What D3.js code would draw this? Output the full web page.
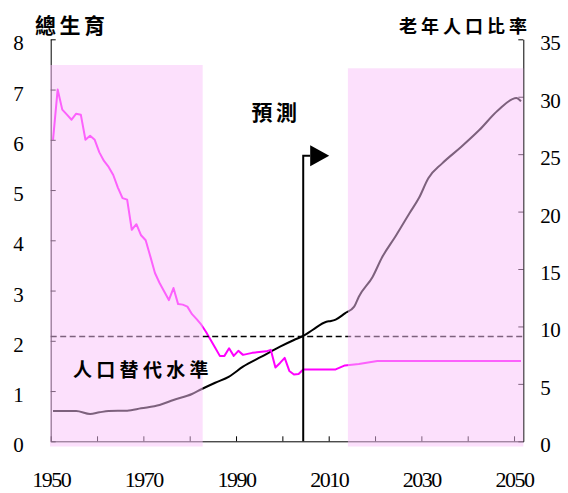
<!DOCTYPE html>
<html>
<head>
<meta charset="utf-8">
<script src="https://cdn.jsdelivr.net/npm/d3@7/dist/d3.min.js"></script>
<style>
	body{margin:0;background:#fff;}
	.num{font-family:"Liberation Serif","Times New Roman",serif;font-size:20px;fill:#000;}
	.cjk{font-family:"Noto Sans CJK TC","Noto Sans CJK SC",sans-serif;font-weight:700;fill:#000;}
</style>
</head>
<body>
<svg id="chart" width="568" height="493"></svg>
<script>
// total fertility rate (left axis)
const fertYears = [1950,1951,1952,1953,1954,1955,1956,1957,1958,1959,
	1960,1961,1962,1963,1964,1965,1966,1967,1968,1969,
	1970,1971,1972,1973,1974,1975,1976,1977,1978,1979,
	1980,1981,1982,1983,1984,1985,1986,1987,1988,1989,
	1990,1991,1992,1993,1994,1995,1996,1997,1998,1999,
	2000,2001,2002,2003,2004,2011,2012,2013,2014,2016,2018,2020,2051];
const fertValues = [6.0,7.0,6.6,6.5,6.4,6.52,6.5,6.0,6.08,6.0,
	5.75,5.58,5.46,5.3,5.05,4.84,4.81,4.21,4.32,4.1,
	4.0,3.68,3.35,3.15,2.98,2.81,3.05,2.73,2.72,2.68,
	2.53,2.43,2.32,2.18,2.02,1.86,1.7,1.7,1.85,1.7,
	1.8,1.72,1.74,1.76,1.77,1.78,1.79,1.82,1.47,1.56,
	1.66,1.4,1.33,1.34,1.43,1.43,1.47,1.51,1.52,1.54,1.57,1.6,1.6];

// share of population aged 65+ (right axis, %)
const oldYears = [1950,1955,1958,1960,1962,1966,1969,1973,1976,1980,1982,1985,1988,1991,1995,1999,2002,2004,2006,
	2009,2010,2011,2013,2015,2016,2019,2021,2024,2027,2029,2031,2034,2038,2042,2046,2050,2051];
const oldValues = [2.64,2.64,2.38,2.52,2.64,2.66,2.87,3.16,3.6,4.12,4.53,5.1,5.63,6.5,7.37,8.24,8.82,9.17,9.69,
	10.41,10.47,10.6,11.14,11.72,12.59,14.33,16.0,17.9,19.9,21.2,22.9,24.2,25.6,27.1,28.8,29.9,29.6];

const leftTicks = [0,1,2,3,4,5,6,7,8];
const rightTicks = [0,5,10,15,20,25,30,35];
const yearTicks = [1950,1960,1970,1980,1990,2000,2010,2020,2030,2040,2050];
const yearLabels = [1950,1970,1990,2010,2030,2050];

const replacementLevel = 2.1;
const forecastYear = 2004;
const bandStarts = [1950, 2014.3];
const bandEnds = [1982.8, 2052];

const svg = d3.select("#chart"),
	plotLeft = 50.7, plotRight = 523.3, plotTop = 39.3, plotBottom = 441.3;

let x = d3.scaleLinear().domain([1950, 2052]).range([plotLeft, plotRight]),
	y = d3.scaleLinear().domain([0, 8]).range([plotBottom, plotTop]),
	yR = d3.scaleLinear().domain([0, 35]).range([plotBottom, plotTop]);

drawLines();
drawReference();
drawAxes();
drawBands();
drawTexts();

//both series, each point sits in the middle of its year
function drawLines(){
	let fert = fertYears.map(function(d,i){ return [d, fertValues[i]]; }),
		old = oldYears.map(function(d,i){ return [d, oldValues[i]]; });

	svg.append("path")
		.datum(old)
		.attr("fill", "none")
		.attr("stroke", "#000")
		.attr("stroke-width", 2)
		.attr("stroke-linejoin", "round")
		.attr("d", d3.line().curve(d3.curveMonotoneX)
			.x(function(d){ return x(d[0] + 0.5); }).y(function(d){ return yR(d[1]); }));

	svg.append("path")
		.datum(fert)
		.attr("fill", "none")
		.attr("stroke", "#ff00ff")
		.attr("stroke-width", 2)
		.attr("stroke-linejoin", "round")
		.attr("d", d3.line().x(function(d){ return x(d[0] + 0.5); }).y(function(d){ return y(d[1]); }));
}

//replacement level dashes and forecast flag
function drawReference(){
	svg.append("line")
		.attr("x1", plotLeft).attr("x2", plotRight)
		.attr("y1", Math.round(y(replacementLevel)) + 0.5).attr("y2", Math.round(y(replacementLevel)) + 0.5)
		.attr("stroke", "#000")
		.attr("stroke-width", 1.4)
		.attr("stroke-dasharray", "6,3.5");

	let fx = x(forecastYear + 0.5),
		fy = 155.7;
	svg.append("path")
		.attr("d", "M" + fx + "," + plotBottom + "V" + fy + "H" + (fx + 7))
		.attr("fill", "none")
		.attr("stroke", "#000")
		.attr("stroke-width", 2);
	svg.append("path")
		.attr("d", "M" + (fx + 7) + "," + (fy - 10.5) + "L" + (fx + 26) + "," + fy + "L" + (fx + 7) + "," + (fy + 10.5) + "Z")
		.attr("fill", "#000");
}

function drawAxes(){
	let gl = svg.append("g")
		.attr("class", "num")
		.attr("transform", "translate(" + plotLeft + ",0)")
		.call(d3.axisLeft(y).tickValues(leftTicks).tickSize(-5).tickSizeOuter(0).tickPadding(27).tickFormat(d3.format("d")));

	let gr = svg.append("g")
		.attr("class", "num")
		.attr("transform", "translate(" + plotRight + ",0)")
		.call(d3.axisRight(yR).tickValues(rightTicks).tickSize(-5).tickSizeOuter(0).tickPadding(17).tickFormat(d3.format("d")));

	let gb = svg.append("g")
		.attr("class", "num")
		.attr("transform", "translate(0," + plotBottom + ")")
		.call(d3.axisBottom(x).tickValues(yearTicks).tickSize(-5).tickSizeOuter(0).tickPadding(30)
			.tickFormat(function(d){ return yearLabels.indexOf(d) >= 0 ? d : ""; }));

	[gl, gr, gb].forEach(function(g){
		g.attr("font-family", null).attr("font-size", null);
		g.selectAll("path, line").attr("stroke", "#000");
		g.selectAll("text").attr("fill", "#000");
	});
	gl.selectAll("text").attr("dy", "0.5em").attr("font-size", 21);
	gr.selectAll("text").attr("dy", "0.5em").attr("font-size", 21).attr("letter-spacing", "-0.5px");
	gb.selectAll("text").attr("font-size", 22).attr("letter-spacing", "-1.5px");
}

//pink periods are laid over the marks
function drawBands(){
	let tops = [65, 68.3];
	svg.selectAll(".band")
		.data(bandStarts)
		.enter().append("rect")
		.attr("class", "band")
		.attr("x", function(d){ return x(d) - 0.7; })
		.attr("width", function(d,i){ return x(bandEnds[i]) - x(d) + 0.7; })
		.attr("y", function(d,i){ return tops[i]; })
		.attr("height", function(d,i){ return 446.5 - tops[i]; })
		.attr("fill", "#f9c1f9")
		.attr("fill-opacity", 0.5);
}

function drawTexts(){
	svg.append("text").attr("class", "cjk")
		.attr("x", 35).attr("y", 33)
		.attr("font-size", 21).attr("letter-spacing", 3.5)
		.text("總生育");
	svg.append("text").attr("class", "cjk")
		.attr("x", 399).attr("y", 33)
		.attr("font-size", 18).attr("letter-spacing", 4)
		.text("老年人口比率");
	svg.append("text").attr("class", "cjk")
		.attr("x", 251.5).attr("y", 119.5)
		.attr("font-size", 21).attr("letter-spacing", 3.5)
		.text("預測");
	svg.append("text").attr("class", "cjk")
		.attr("x", 73).attr("y", 377)
		.attr("font-size", 19).attr("letter-spacing", 4.3)
		.text("人口替代水準");
}
</script>
</body>
</html>
